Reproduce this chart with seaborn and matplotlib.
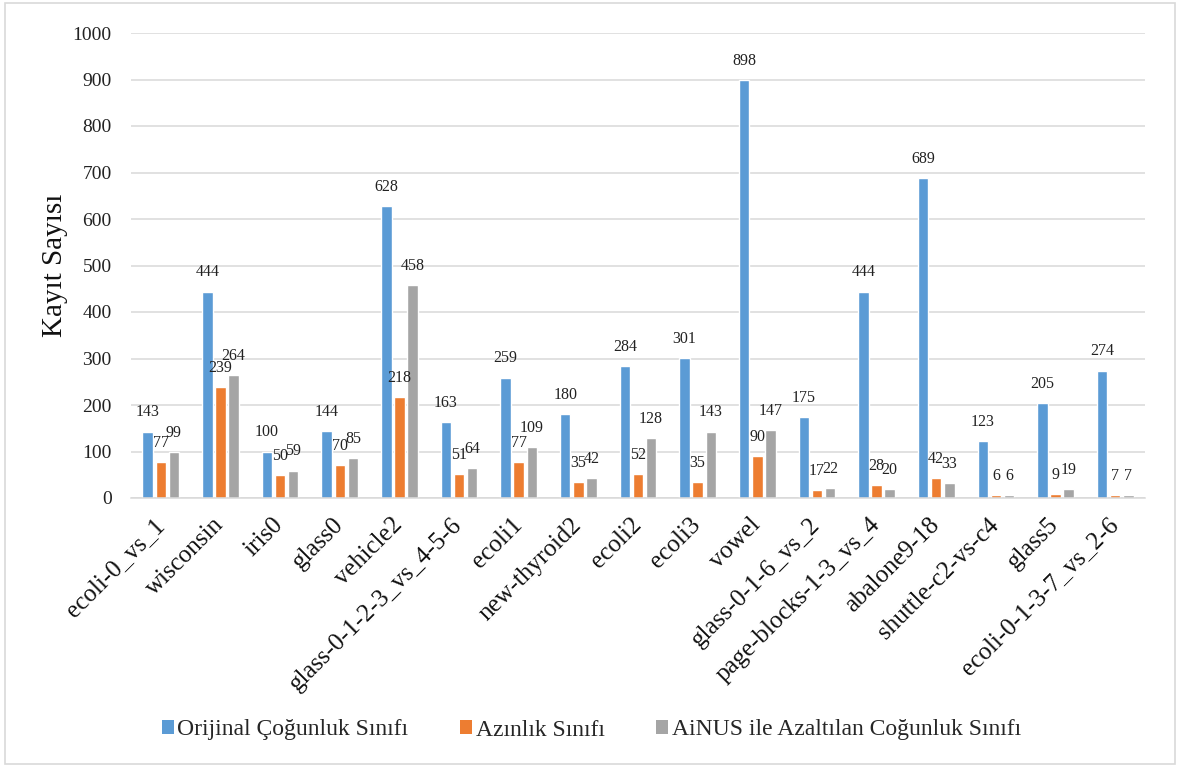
import matplotlib
matplotlib.use("Agg")
import matplotlib.pyplot as plt
import seaborn as sns
import pandas as pd
from matplotlib.patches import Rectangle, Patch

categories = ["ecoli-0_vs_1", "wisconsin", "iris0", "glass0", "vehicle2",
              "glass-0-1-2-3_vs_4-5-6", "ecoli1", "new-thyroid2", "ecoli2", "ecoli3",
              "vowel", "glass-0-1-6_vs_2", "page-blocks-1-3_vs_4", "abalone9-18",
              "shuttle-c2-vs-c4", "glass5", "ecoli-0-1-3-7_vs_2-6"]
original_majority = [143, 444, 100, 144, 628, 163, 259, 180, 284, 301, 898, 175, 444, 689, 123, 205, 274]
minority = [77, 239, 50, 70, 218, 51, 77, 35, 52, 35, 90, 17, 28, 42, 6, 9, 7]
ainus_majority = [99, 264, 59, 85, 458, 64, 109, 42, 128, 143, 147, 22, 20, 33, 6, 19, 7]
series_names = ["Orijinal Çoğunluk Sınıfı", "Azınlık Sınıfı", "AiNUS ile Azaltılan Coğunluk Sınıfı"]
colors = ["#5B9BD5", "#ED7D31", "#A5A5A5"]
y_label = "Kayıt Sayısı"
y_ticks = list(range(0, 1001, 100))

rows = []
for name, vals in zip(series_names, [original_majority, minority, ainus_majority]):
    for c, v in zip(categories, vals):
        rows.append({"Veri": c, "Seri": name, "Değer": v})
df = pd.DataFrame(rows)

sns.set_theme(style="white")
plt.rcParams["font.family"] = ["Liberation Serif", "DejaVu Serif"]

fig = plt.figure(figsize=(11.83, 7.65), dpi=100)
ax = fig.add_axes([131 / 1183, 1 - 498 / 765, (1145 - 131) / 1183, (498 - 33) / 765])

sns.barplot(data=df, x="Veri", y="Değer", hue="Seri", hue_order=series_names,
            order=categories, palette=colors, width=0.66, gap=0.2,
            saturation=1, errorbar=None, ax=ax, legend=False)

for cont in ax.containers:
    ax.bar_label(cont, fmt="%d", padding=8, fontsize=11.5, color="#222222")

ax.set_xlim(-0.5, len(categories) - 0.5)
ax.set_ylim(0, 1000)
ax.set_yticks(y_ticks)
ax.set_yticklabels([str(t) for t in y_ticks], fontsize=14, color="#222222")
ax.yaxis.grid(True, color="#D9D9D9", linewidth=1.1)
ax.set_axisbelow(True)
for s in ["top", "right", "left"]:
    ax.spines[s].set_visible(False)
ax.spines["bottom"].set_color("#D9D9D9")
ax.spines["bottom"].set_linewidth(1.1)
ax.tick_params(axis="y", length=0, pad=14)
ax.tick_params(axis="x", length=0, pad=17)
ax.set_xlabel("")
ax.set_ylabel(y_label, fontsize=21, color="#111111", labelpad=3)
ax.set_xticks(range(len(categories)))
ax.set_xticklabels(categories, rotation=45, ha="right", va="center",
                   rotation_mode="anchor", fontsize=18, color="#111111")

handles = [Patch(facecolor=c, edgecolor="none") for c in colors]
fig.legend(handles, series_names, loc="center", bbox_to_anchor=(0.5, 1 - 730 / 765),
           ncol=3, frameon=False, fontsize=17, handlelength=0.5, handleheight=0.5,
           handletextpad=0.15, columnspacing=2.2)

fig.patches.append(Rectangle((5 / 1183, 1 / 765), 1170 / 1183, 761 / 765,
                             transform=fig.transFigure, fill=False,
                             edgecolor="#D9D9D9", linewidth=1.2))

fig.savefig("out.png", dpi=100, facecolor="white")
